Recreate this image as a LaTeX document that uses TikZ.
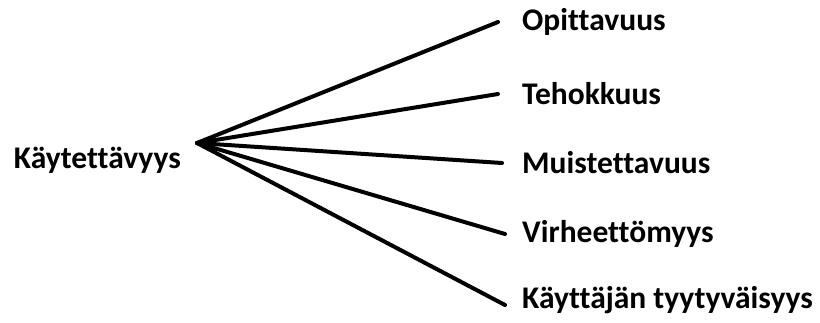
\documentclass[tikz,border=0pt]{standalone}
\usepackage{fontspec}
\setmainfont{Carlito}[Ligatures={NoCommon}]
\usetikzlibrary{positioning}

\tikzset{
  label/.style={font=\bfseries\fontsize{31.5}{36}\selectfont, inner sep=0pt},
  leaf/.style={label, anchor=west},
  branch/.style={line width=4pt, line cap=round}
}

\begin{document}
\begin{tikzpicture}[x=1pt,y=-1pt]
    \useasboundingbox (0,0) rectangle (820,323);

    % 根节点
    \node[label, anchor=east] (kaytettavyys) at (181,160) {Käytettävyys};
    \coordinate (hub) at (197,143);

    % 五个子项
    \node[leaf] (opittavuus) at (522,22) {Opittavuus};
    \node[leaf] (tehokkuus) at (522,94) {Tehokkuus};
    \node[leaf] (muistettavuus) at (522,163) {Muistettavuus};
    \node[leaf] (virheettomyys) at (522,234) {Virheettömyys};
    \node[leaf] (tyytyvaisyys) at (522,300) {Käyttäjän tyytyväisyys};

    % 连线
    \draw[branch] (hub) -- ([xshift=-24]opittavuus.west);
    \draw[branch] (hub) -- ([xshift=-24]tehokkuus.west);
    \draw[branch] (hub) -- ([xshift=-20]muistettavuus.west);
    \draw[branch] (hub) -- ([xshift=-17]virheettomyys.west);
    \draw[branch] (hub) -- ([xshift=-17,yshift=-5]tyytyvaisyys.west);
\end{tikzpicture}
\end{document}
